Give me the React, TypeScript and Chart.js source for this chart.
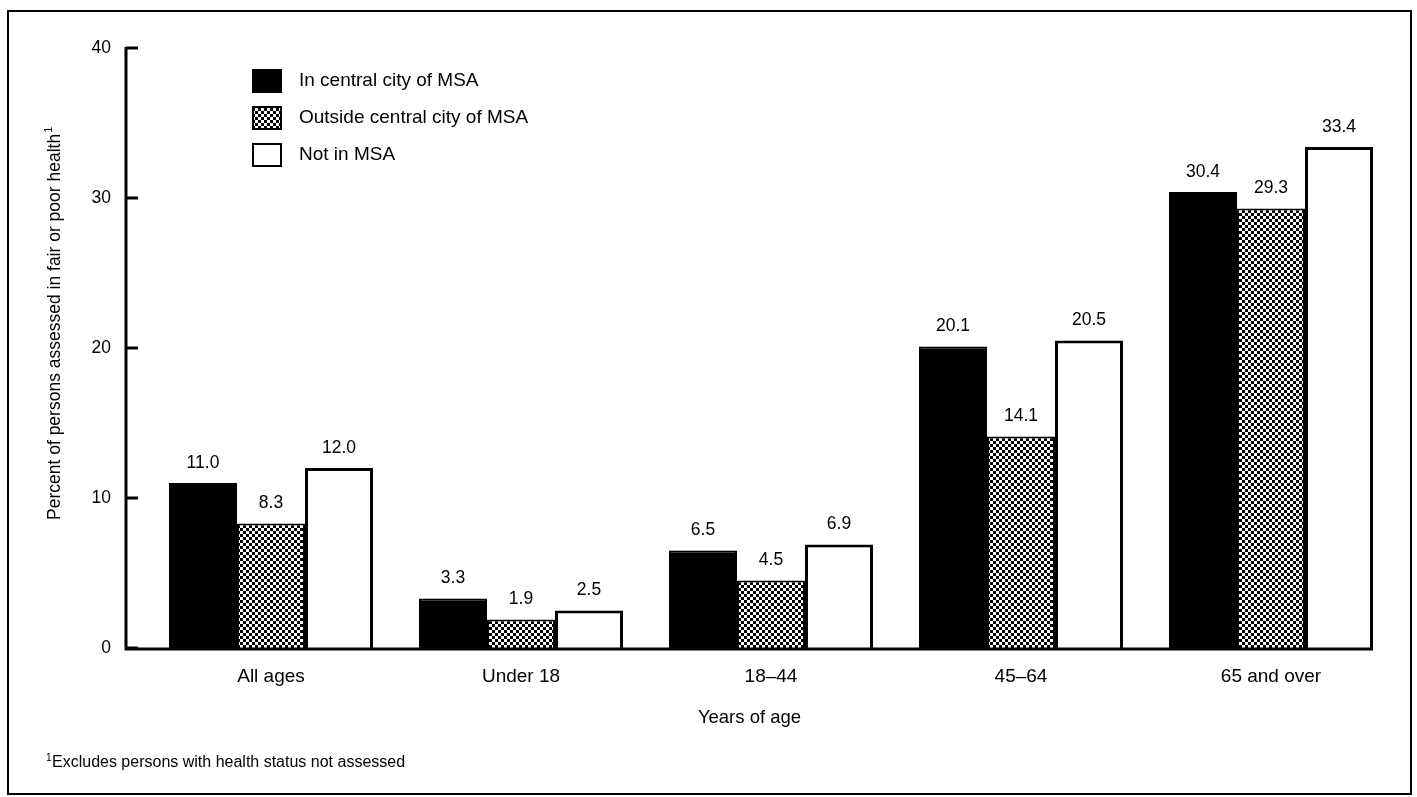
import React, { useEffect, useRef } from "react";
import { Chart, registerables } from "chart.js";

Chart.register(...registerables);

const categories = ["All ages", "Under 18", "18–44", "45–64", "65 and over"];
const inCentralCity = [11.0, 3.3, 6.5, 20.1, 30.4];
const outsideCentralCity = [8.3, 1.9, 4.5, 14.1, 29.3];
const notInMSA = [12.0, 2.5, 6.9, 20.5, 33.4];
const seriesNames = ["In central city of MSA", "Outside central city of MSA", "Not in MSA"];
const yTicks = [0, 10, 20, 30, 40];
const yTitle = "Percent of persons assessed in fair or poor health";
const xTitle = "Years of age";
const footnote = "Excludes persons with health status not assessed";

const FONT = '"Liberation Sans", Arial, Helvetica, sans-serif';
const W = 1417;
const H = 797;

function makePattern(): CanvasPattern | string {
  const c = document.createElement("canvas");
  c.width = 6;
  c.height = 6;
  const g = c.getContext("2d");
  if (!g) return "#777";
  g.fillStyle = "#fff";
  g.fillRect(0, 0, 6, 6);
  g.fillStyle = "#000";
  g.fillRect(0, 0, 3, 3);
  g.fillRect(3, 3, 3, 3);
  const main = document.createElement("canvas").getContext("2d");
  const p = main ? main.createPattern(c, "repeat") : null;
  return p || "#777";
}

export default function App() {
  const ref = useRef<HTMLCanvasElement | null>(null);

  useEffect(() => {
    if (!ref.current) return;
    const pattern = makePattern();
    const fills: any[] = ["#000", pattern, "#fff"];

    const decor = {
      id: "decor",
      afterDraw(chart: any) {
        const ctx = chart.ctx as CanvasRenderingContext2D;
        const ys = chart.scales.y;
        const meta2 = chart.getDatasetMeta(2);
        const axisLeft = 126;
        const lastBar = meta2.data[meta2.data.length - 1];
        const axisRight = lastBar.x + lastBar.width / 2;
        const y0 = ys.getPixelForValue(0);
        const yTop = ys.getPixelForValue(40);
        ctx.save();
        // frame
        ctx.strokeStyle = "#000";
        ctx.lineWidth = 2;
        ctx.strokeRect(8, 11, 1403, 783);
        // axes
        ctx.lineWidth = 3;
        ctx.beginPath();
        ctx.moveTo(axisLeft, yTop - 1);
        ctx.lineTo(axisLeft, y0 + 1);
        ctx.lineTo(axisRight, y0 + 1);
        ctx.stroke();
        yTicks.forEach((t) => {
          const py = ys.getPixelForValue(t);
          ctx.beginPath();
          ctx.moveTo(axisLeft, py);
          ctx.lineTo(axisLeft + 12, py);
          ctx.stroke();
        });
        // value labels
        ctx.fillStyle = "#000";
        ctx.font = `17.5px ${FONT}`;
        ctx.textAlign = "center";
        ctx.textBaseline = "middle";
        chart.data.datasets.forEach((ds: any, di: number) => {
          const meta = chart.getDatasetMeta(di);
          meta.data.forEach((bar: any, i: number) => {
            ctx.fillText(Number(ds.data[i]).toFixed(1), bar.x, bar.y - 20);
          });
        });
        // legend
        const rowsY = [70, 107, 144];
        seriesNames.forEach((name, i) => {
          ctx.fillStyle = fills[i];
          ctx.fillRect(253, rowsY[i], 28, 22);
          ctx.lineWidth = 2;
          ctx.strokeStyle = "#000";
          ctx.strokeRect(253, rowsY[i], 28, 22);
          ctx.fillStyle = "#000";
          ctx.font = `19px ${FONT}`;
          ctx.textAlign = "left";
          ctx.textBaseline = "middle";
          ctx.fillText(name, 299, rowsY[i] + 11);
        });
        // x title
        ctx.font = `18.5px ${FONT}`;
        ctx.textAlign = "center";
        ctx.textBaseline = "middle";
        ctx.fillText(xTitle, (axisLeft + axisRight) / 2, 718);
        // y title
        ctx.save();
        ctx.translate(55, 520);
        ctx.rotate(-Math.PI / 2);
        ctx.font = `17.5px ${FONT}`;
        ctx.textAlign = "left";
        ctx.textBaseline = "middle";
        ctx.fillText(yTitle, 0, 0);
        const tw = ctx.measureText(yTitle).width;
        ctx.font = `11px ${FONT}`;
        ctx.fillText("1", tw + 1, -6);
        ctx.restore();
        // footnote
        ctx.font = `10px ${FONT}`;
        ctx.textAlign = "left";
        ctx.textBaseline = "middle";
        ctx.fillText("1", 46, 758);
        ctx.font = `16px ${FONT}`;
        ctx.fillText(footnote, 52, 763);
        ctx.restore();
      },
    };

    const chart = new Chart(ref.current, {
      type: "bar",
      data: {
        labels: categories,
        datasets: [
          {
            label: seriesNames[0],
            data: inCentralCity,
            backgroundColor: "#000",
            borderColor: "#000",
            borderWidth: 2,
          },
          {
            label: seriesNames[1],
            data: outsideCentralCity,
            backgroundColor: pattern as any,
            borderColor: "#000",
            borderWidth: 2,
          },
          {
            label: seriesNames[2],
            data: notInMSA,
            backgroundColor: "#fff",
            borderColor: "#000",
            borderWidth: 3,
          },
        ],
      },
      options: {
        responsive: false,
        animation: false,
        events: [],
        layout: { padding: { top: 48, right: 21, left: 0, bottom: 0 } },
        datasets: {
          bar: { categoryPercentage: 0.816, barPercentage: 1 },
        },
        plugins: {
          legend: { display: false },
          tooltip: { enabled: false },
          title: { display: false },
        },
        scales: {
          x: {
            grid: { display: false, drawTicks: false },
            border: { display: false },
            ticks: {
              color: "#000",
              font: { family: FONT, size: 19 },
              padding: 17,
              maxRotation: 0,
              autoSkip: false,
            },
            afterFit(s: any) {
              s.height = 149;
            },
          },
          y: {
            min: 0,
            max: 40,
            grid: { display: false, drawTicks: false },
            border: { display: false },
            ticks: {
              stepSize: 10,
              color: "#000",
              font: { family: FONT, size: 17.5 },
              padding: 35,
            },
            afterFit(s: any) {
              s.width = 146;
            },
          },
        },
      },
      plugins: [decor],
    });
    return () => chart.destroy();
  }, []);

  return (
    <div style={{ position: "fixed", left: 0, top: 0, width: W, height: H, background: "#fff" }}>
      <canvas ref={ref} width={W} height={H} />
    </div>
  );
}
